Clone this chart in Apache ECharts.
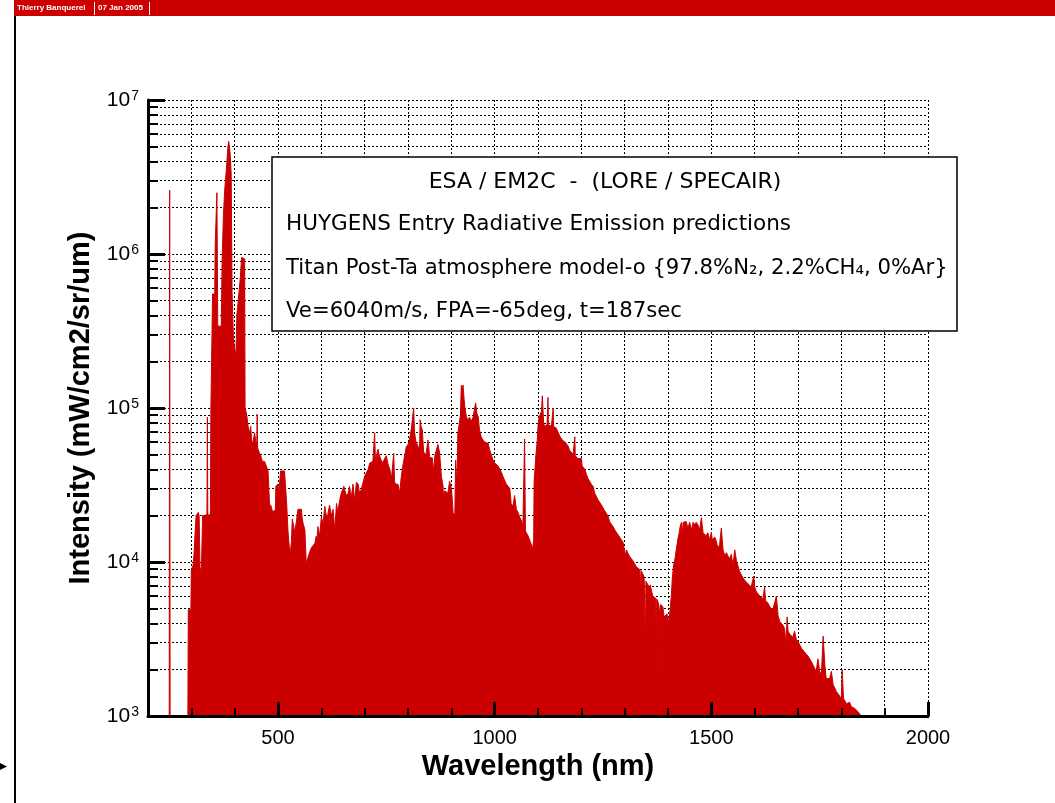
<!DOCTYPE html>
<html lang="en">
<head>
<meta charset="UTF-8">
<title>HUYGENS Entry Radiative Emission</title>
<script src="https://cdn.jsdelivr.net/npm/echarts@6/dist/echarts.min.js"></script>
<style>
    html, body {margin:0; padding:0; background:#fff;}
    #chart {width:1055px; height:803px;}
</style>
</head>
<body>
<div id="chart"></div>
<script>
// spectrum: [wavelength nm, intensity mW/cm2/sr/um]
const line250 = [[249,1000],[250,2600000],[251,1000],[292,1000]];

const band300to430 = [
    [293,4900],[299,4900],[300,8900],[304,9500],[306,11000],[309,16000],[311,20000],[314,20000],
    [316,21000],[318,20000],[320,9300],[323,8100],[326,20000],[331,20000],[336,20500],[337,87000],
    [338,20000],[344,20500],[345,93000],[348,93000],[349,550000],[354,550000],[355,1120000],[358,1120000],
    [359,2500000],[361,340000],[369,340000],[371,890000],[374,1780000],[377,2600000],[381,3600000],
    [384,4800000],[386,5400000],[388,5000000],[390,4300000],[392,3300000],[394,560000],[397,290000],
    [400,240000],[403,225000],[405,400000],[408,490000],[411,490000],[413,700000],[416,950000],
    [420,950000],[423,930000],[424,100000],[427,93000],[429,85000]
];

const band430to1100 = [
    [431,76000],[433,76000],[435,68000],[437,76000],[439,62000],[441,58000],[444,64000],[446,69000],
    [449,60000],[451,58000],[452,91000],[453,55000],[456,52000],[459,50000],[462,47000],[464,45000],
    [469,45000],[473,42000],[477,39000],[479,38000],[481,22000],[483,23500],[485,24000],[488,21000],
    [492,21000],[494,22000],[495,31000],[500,32000],[502,28000],[504,28000],[506,39000],[515,39000],
    [519,39000],[520,24000],[523,16000],[527,11500],[529,12000],[531,13500],[533,19000],[535,17800],
    [538,15500],[540,17000],[542,17800],[546,22000],[550,22000],[554,22000],[556,19000],[558,17800],
    [562,16200],[564,12000],[565,9800],[569,10700],[575,12000],[579,12600],[585,13200],[588,14700],
    [590,13500],[592,17000],[596,14700],[600,19500],[604,17800],[608,23000],[612,19500],[615,20400],
    [619,23400],[623,20000],[627,22000],[631,16200],[635,24000],[638,21000],[642,25000],[646,28000],
    [652,31000],[654,29500],[658,26800],[662,28000],[665,31000],[669,26000],[673,32000],[677,25000],
    [681,33000],[685,32000],[688,28000],[692,29500],[696,29500],[700,36000],[704,38000],[708,40000],
    [712,44000],[716,45000],[719,45000],[721,46000],[723,69000],[725,44000],[727,43000],[729,52000],
    [731,54000],[733,50000],[735,50000],[738,46000],[742,44000],[746,47000],[750,49000],[754,43000],
    [758,40000],[762,35000],[765,34000],[767,51000],[769,33000],[772,32000],[777,32000],[781,28000],
    [784,35000],[788,42000],[792,42000],[796,56000],[802,59000],[805,66000],[808,74000],[812,72000],
    [813,100000],[815,70000],[818,61000],[821,61000],[825,54000],[827,60000],[828,84000],[830,76000],
    [833,72000],[836,52000],[841,49000],[844,56000],[846,62000],[848,55000],[850,47500],[856,47500],
    [859,39000],[862,49000],[865,49000],[869,58000],[873,51000],[877,36000],[881,31000],[882,26000],
    [885,29000],[888,29000],[892,28000],[896,33500],[900,30000],[902,26000],[904,21000],[908,20000],
    [910,46000],[913,31000],[915,68000],[919,69000],[921,90000],[923,140000],[925,130000],[927,141000],
    [929,118000],[931,102000],[935,87000],[938,84000],[942,87000],[946,82000],[950,87000],[953,85000],
    [956,108000],[959,92000],[962,88000],[965,72000],[969,65000],[973,62000],[977,60000],[981,59000],
    [985,59000],[988,54000],[992,50000],[996,46000],[1000,44000],[1004,43000],[1008,42000],[1012,40000],
    [1016,38000],[1019,36000],[1023,35000],[1027,32000],[1031,31000],[1035,30000],[1038,24000],[1042,23000],
    [1046,27000],[1050,22000],[1054,21000],[1058,19500],[1062,18500],[1065,17000],[1067,16500],[1069,63000],
    [1071,16000],[1073,15500],[1077,14800],[1081,13800],[1085,12900],[1088,12300],[1090,14000],[1091,33000],
    [1093,40000],[1095,49000],[1098,60000]
];

const band1100to1500 = [
    [1100,76000],[1102,85000],[1105,91000],[1108,95000],[1110,120000],[1112,123000],[1113,80000],[1115,76000],
    [1119,76000],[1121,78000],[1123,117000],[1124,78000],[1127,76000],[1131,76000],[1134,78000],[1135,100000],
    [1136,76000],[1138,76000],[1142,74000],[1146,70000],[1150,66000],[1154,63000],[1158,62000],[1162,60000],
    [1165,59000],[1169,57000],[1173,53000],[1177,52000],[1181,50000],[1184,50000],[1185,65000],[1186,49000],
    [1188,48000],[1192,47000],[1196,46000],[1200,47000],[1202,42000],[1208,40000],[1212,37000],[1215,35000],
    [1219,34000],[1223,32000],[1227,31000],[1231,28000],[1235,28000],[1238,25500],[1242,25000],[1246,23500],
    [1250,22500],[1254,21500],[1258,21000],[1262,19800],[1265,18300],[1269,17900],[1273,17000],[1277,16200],
    [1281,15800],[1285,15000],[1288,14700],[1292,14000],[1296,13500],[1300,13700],[1302,11000],[1304,12000],
    [1308,11300],[1312,10800],[1315,10500],[1319,10200],[1323,10000],[1327,9300],[1331,9100],[1335,8900],
    [1336,6900],[1338,8800],[1341,8700],[1345,8000],[1347,7800],[1348,2950],[1349,7500],[1352,7400],
    [1354,7100],[1356,6600],[1359,7100],[1362,6500],[1365,6000],[1369,5900],[1372,5800],[1373,1660],
    [1374,5750],[1377,5500],[1379,5200],[1381,4500],[1383,5300],[1385,5250],[1388,5150],[1391,4400],
    [1395,4300],[1398,4600],[1400,3900],[1402,4300],[1404,4600],[1408,6200],[1410,7900],[1413,9600],
    [1415,10000],[1419,12000],[1423,14200],[1425,15000],[1428,17000],[1431,18100],[1433,15000],[1435,18100],
    [1438,18100],[1442,18300],[1446,16600],[1450,18100],[1454,16200],[1458,18100],[1462,17400],[1465,18100],
    [1469,17400],[1473,16200],[1477,19400],[1481,15500],[1485,15500],[1488,14800],[1492,15500],[1496,13900]
];

const band1500to1850 = [
    [1500,15600],[1502,14000],[1508,14500],[1512,13500],[1515,12300],[1519,12900],[1523,16600],[1527,12000],
    [1531,11000],[1535,11500],[1538,11000],[1542,10500],[1546,11200],[1550,9500],[1554,12000],[1558,10200],
    [1562,10000],[1565,8700],[1569,8300],[1573,7900],[1577,7600],[1581,7400],[1585,7200],[1588,7100],
    [1592,6900],[1596,6700],[1598,8100],[1600,6900],[1604,6400],[1608,6200],[1612,6000],[1615,5900],
    [1619,5750],[1623,6900],[1625,5600],[1631,5400],[1635,5100],[1638,5000],[1642,4900],[1646,4800],
    [1650,6000],[1654,4500],[1658,4100],[1662,4000],[1665,3900],[1669,3700],[1672,2950],[1675,4400],
    [1677,3550],[1681,3400],[1685,3300],[1688,3250],[1692,3550],[1696,3150],[1700,3050],[1704,2900],
    [1708,2750],[1712,2700],[1715,2600],[1719,2550],[1723,2450],[1727,2350],[1731,2250],[1735,2300],
    [1738,2050],[1742,1950],[1746,2350],[1750,1950],[1754,1850],[1758,3300],[1762,2140],[1765,1750],
    [1769,1700],[1773,1750],[1777,1950],[1781,1600],[1785,1520],[1788,1450],[1792,1400],[1796,1360],
    [1800,1300],[1802,2000],[1805,1300],[1808,1300],[1812,1200],[1815,1180],[1819,1230],[1823,1150],
    [1827,1120],[1831,1120],[1835,1100],[1838,1070],[1842,1040],[1846,1000]
];

const xMajorTicks = [500, 1000, 1500, 2000];
const decades = [1e3, 1e4, 1e5, 1e6, 1e7];

const boxLines = [
    'ESA / EM2C  -  (LORE / SPECAIR)',
    'HUYGENS Entry Radiative Emission predictions',
    'Titan Post-Ta atmosphere model-o {97.8%N\u2082, 2.2%CH\u2084, 0%Ar}',
    'Ve=6040m/s, FPA=-65deg, t=187sec'
];

const RED = '#cc0000';
const FONT = '"Liberation Sans", Arial, sans-serif';
const BOXFONT = '"DejaVu Sans", sans-serif';

// minor ticks: 100 nm steps, log minors 2..9 per decade
let xMinorTicks = [];
for (let w = 300; w <= 2000; w += 100) xMinorTicks.push(w);
let yMinorTicks = [];
decades.forEach((d, i) => {
    if (i === decades.length - 1) { yMinorTicks.push(d); return; }
    for (let k = 1; k <= 9; k++) yMinorTicks.push(k * d);
});

const spectrum = [].concat(line250, band300to430, band430to1100, band1100to1500, band1500to1850);

const dots = {show: true, lineStyle: {color: '#000', width: 1, type: [2, 2]}};

let chart = echarts.init(document.getElementById('chart'));

let options = {
    animation: false,
    backgroundColor: '#fff',
    grid: {left: 148, top: 100, width: 780, height: 616, containLabel: false},
    xAxis: [
        {
            type: 'value', min: 200, max: 2000, interval: 100,
            axisLine: {show: false, onZero: false}, axisTick: {show: false}, axisLabel: {show: false},
            splitLine: dots
        },
        {
            type: 'value', min: 200, max: 2000, position: 'bottom', z: 10,
            axisLine: {show: true, onZero: false, lineStyle: {color: '#000', width: 3}},
            axisTick: {show: true, inside: true, length: 8, customValues: xMinorTicks, lineStyle: {color: '#000', width: 2}},
            axisLabel: {show: false}, splitLine: {show: false}
        },
        {
            type: 'value', min: 200, max: 2000, position: 'bottom', z: 10,
            axisLine: {show: false, onZero: false},
            axisTick: {show: true, inside: true, length: 14, customValues: xMajorTicks, lineStyle: {color: '#000', width: 3}},
            axisLabel: {
                show: true, customValues: xMajorTicks, margin: 12, fontSize: 20, color: '#000', fontFamily: FONT,
                formatter: v => String(v)
            },
            splitLine: {show: false},
            name: 'Wavelength (nm)', nameLocation: 'middle', nameGap: 29,
            nameTextStyle: {fontSize: 29, fontWeight: 'bold', color: '#000', fontFamily: FONT}
        }
    ],
    yAxis: [
        {
            type: 'log', logBase: 10, min: 1000, max: 1e7, position: 'left',
            axisLine: {show: true, onZero: false, lineStyle: {color: '#000', width: 3}},
            axisTick: {show: true, inside: true, length: 10, customValues: yMinorTicks, lineStyle: {color: '#000', width: 2}},
            axisLabel: {show: false},
            splitLine: dots
        },
        {
            type: 'log', logBase: 10, min: 1000, max: 1e7, position: 'left', z: 10,
            axisLine: {show: false, onZero: false},
            axisTick: {show: true, inside: true, length: 17, customValues: decades, lineStyle: {color: '#000', width: 3}},
            axisLabel: {
                show: true, customValues: decades, margin: 9,
                formatter: v => '{b|10}{e|' + Math.round(Math.log10(v)) + '}',
                rich: {
                    b: {fontSize: 21, fontFamily: FONT, color: '#000', lineHeight: 22, verticalAlign: 'bottom'},
                    e: {fontSize: 14, fontFamily: FONT, color: '#000', lineHeight: 14, padding: [0, 0, 10, 1], verticalAlign: 'top'}
                }
            },
            splitLine: {show: false},
            name: 'Intensity (mW/cm2/sr/um)', nameLocation: 'middle', nameGap: 53, nameRotate: 90,
            nameTextStyle: {fontSize: 29, fontWeight: 'bold', color: '#000', fontFamily: FONT}
        }
    ],
    series: [{
        name: 'spectrum',
        type: 'line',
        xAxisIndex: 0, yAxisIndex: 0,
        data: spectrum,
        symbol: 'none', showSymbol: false,
        lineStyle: {color: RED, width: 1},
        itemStyle: {color: RED},
        areaStyle: {color: RED, opacity: 1, origin: 'start'}
    }],
    graphic: [
        // header strip
        {type: 'rect', shape: {x: 14, y: 0, width: 1041, height: 16}, style: {fill: RED}, z: 100},
        {type: 'text', x: 17, y: 8, z: 101, style: {text: 'Thierry Banquerel', fill: '#fff', font: 'bold 8px ' + FONT, verticalAlign: 'middle', textVerticalAlign: 'middle'}},
        {type: 'rect', shape: {x: 94, y: 2, width: 1, height: 13}, style: {fill: '#fff'}, z: 101},
        {type: 'text', x: 98, y: 8, z: 101, style: {text: '07 Jan 2005', fill: '#fff', font: 'bold 8px ' + FONT, verticalAlign: 'middle', textVerticalAlign: 'middle'}},
        {type: 'rect', shape: {x: 149, y: 2, width: 1, height: 13}, style: {fill: '#fff'}, z: 101},
        // page frame on the left
        {type: 'rect', shape: {x: 14, y: 16, width: 2, height: 787}, style: {fill: '#000'}, z: 100},
        // annotation box
        {type: 'rect', shape: {x: 272, y: 157, width: 685, height: 174}, style: {fill: '#fff', stroke: '#000', lineWidth: 1.5}, z: 100},
        {type: 'text', x: 605, y: 182, z: 101, style: {text: boxLines[0], fill: '#000', font: '22px ' + BOXFONT, align: 'center', textAlign: 'center', verticalAlign: 'middle', textVerticalAlign: 'middle'}},
        {type: 'text', x: 286, y: 224, z: 101, style: {text: boxLines[1], fill: '#000', font: '21.5px ' + BOXFONT, verticalAlign: 'middle', textVerticalAlign: 'middle'}},
        {type: 'text', x: 286, y: 268, z: 101, style: {text: boxLines[2], fill: '#000', font: '21.2px ' + BOXFONT, verticalAlign: 'middle', textVerticalAlign: 'middle'}},
        {type: 'text', x: 286, y: 311, z: 101, style: {text: boxLines[3], fill: '#000', font: '21.2px ' + BOXFONT, verticalAlign: 'middle', textVerticalAlign: 'middle'}},
        // small pointer at lower left
        {type: 'polygon', shape: {points: [[0, 763], [7, 766.5], [0, 770]]}, style: {fill: '#000'}, z: 100}
    ]
};

chart.setOption(options);
</script>
</body>
</html>
